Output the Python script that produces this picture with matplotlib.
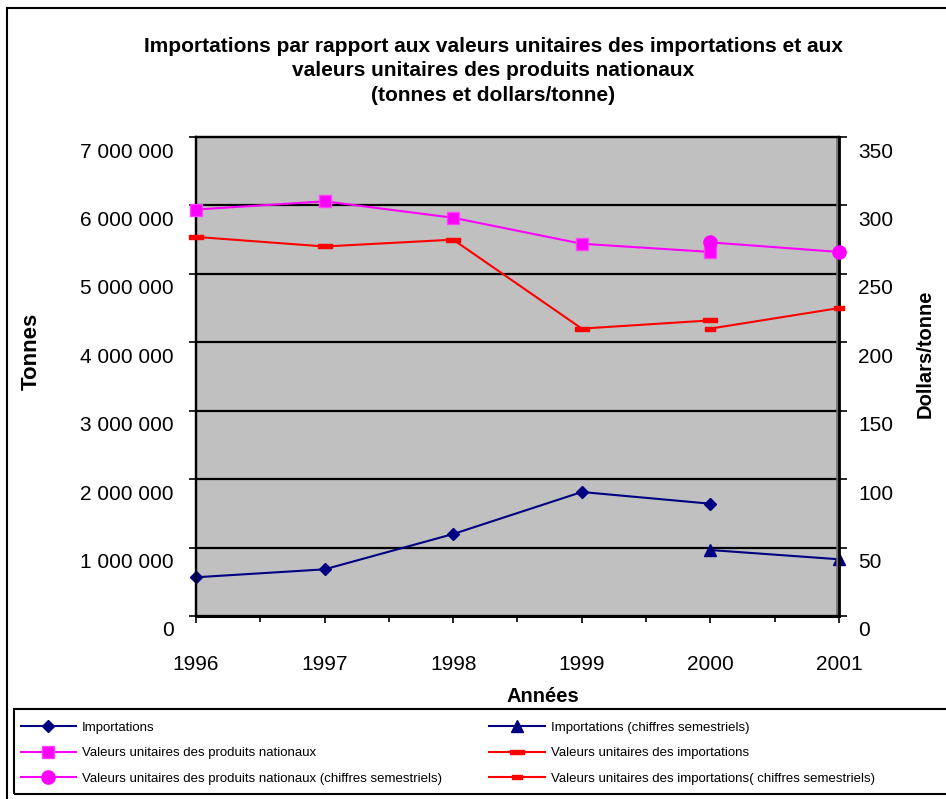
import matplotlib
matplotlib.use("Agg")
import matplotlib.pyplot as plt
from matplotlib.lines import Line2D
from matplotlib.patches import Rectangle
from matplotlib.transforms import ScaledTranslation
import numpy as np

plt.rcParams['font.family'] = ['Liberation Sans', 'DejaVu Sans']

# ---- data ----
years = [1996, 1997, 1998, 1999, 2000, 2001]
imp_years = [1996, 1997, 1998, 1999, 2000]
importations = [566000, 682000, 1198000, 1812000, 1641000]
semi_years = [2000, 2001]
importations_semi = [964000, 829000]
nat_values = [297, 303, 291, 272, 266]
nat_values_semi = [273, 266]
imp_values = [277, 270, 275, 210, 216]
imp_values_semi = [210, 225]

left_ticks = [0, 1000000, 2000000, 3000000, 4000000, 5000000, 6000000, 7000000]
left_labels = ["0", "1 000 000", "2 000 000", "3 000 000", "4 000 000",
               "5 000 000", "6 000 000", "7 000 000"]
right_ticks = [0, 50, 100, 150, 200, 250, 300, 350]

W, H = 946, 799
fig = plt.figure(figsize=(W / 100, H / 100), dpi=100)

def fx(px):
    return px / W

def fy(py):
    return 1 - py / H

# figure border (left and top)
fig.add_artist(Line2D([fx(7), fx(7)], [fy(8), fy(800)], color='black', lw=1.5,
                      transform=fig.transFigure))
fig.add_artist(Line2D([fx(7), fx(950)], [fy(8), fy(8)], color='black', lw=1.5,
                      transform=fig.transFigure))

ax = fig.add_axes([fx(196), fy(616), fx(839 - 196), (616 - 137) / H])
ax.set_facecolor('#C0C0C0')
ax.set_xlim(1996, 2001)
ax.set_ylim(0, 7000000)
for y in left_ticks[1:-1]:
    ax.axhline(y, color='black', lw=1.6, zorder=1)

ax.set_yticks(left_ticks)
ax.set_yticklabels(left_labels, fontsize=15)
ax.set_xticks(years)
ax.set_xticklabels([str(y) for y in years], fontsize=15)
ax.set_xticks(np.arange(1996.5, 2001, 1.0), minor=True)
ax.tick_params(axis='y', direction='out', length=5, width=1.2, pad=11)
ax.tick_params(axis='x', which='major', direction='out', length=5, width=1.2, pad=23)
ax.tick_params(axis='x', which='minor', direction='out', length=4, width=1.2)
for lbl in ax.get_yticklabels():
    lbl.set_transform(lbl.get_transform() + ScaledTranslation(0, -13 / 100, fig.dpi_scale_trans))
for s in ['left', 'bottom', 'top', 'right']:
    ax.spines[s].set_linewidth(1.6)
ax.spines['bottom'].set_linewidth(2.2)

ax.plot(imp_years, importations, color='#000080', lw=1.5, marker='D', ms=6.5,
        mfc='#000080', mec='#000080', zorder=3, clip_on=False,
        label='Importations')
ax.plot(semi_years, importations_semi, color='#000080', lw=1.5, marker='^', ms=9,
        mfc='#000080', mec='#000080', zorder=3, clip_on=False,
        label='Importations (chiffres semestriels)')

ax2 = ax.twinx()
ax2.set_ylim(0, 350)
ax2.set_yticks(right_ticks)
ax2.set_yticklabels([str(v) for v in right_ticks], fontsize=15)
ax2.tick_params(axis='y', direction='out', length=6, width=1.2, pad=8)
for lbl in ax2.get_yticklabels():
    lbl.set_transform(lbl.get_transform() + ScaledTranslation(0, -13 / 100, fig.dpi_scale_trans))
for s in ['left', 'bottom', 'top', 'right']:
    ax2.spines[s].set_linewidth(1.6)
ax2.spines['right'].set_linewidth(2.0)
ax2.axvline(2001, color='#707070', lw=4, zorder=0.5)

dash = [(-0.5, -0.16), (0.5, -0.16), (0.5, 0.16), (-0.5, 0.16), (-0.5, -0.16)]

ax2.plot(imp_years, nat_values, color='#FF00FF', lw=1.5, marker='s', ms=8.5,
         mfc='#FF00FF', mec='#FF40FF', zorder=3, clip_on=False,
         label='Valeurs unitaires des produits nationaux')
ax2.plot(semi_years, nat_values_semi, color='#FF00FF', lw=1.5, marker='o', ms=9.5,
         mfc='#FF00FF', mec='#FF00FF', zorder=3, clip_on=False,
         label='Valeurs unitaires des produits nationaux (chiffres semestriels)')
ax2.plot(imp_years, imp_values, color='#FF0000', lw=1.5, marker=dash, ms=10,
         mfc='#FF0000', mec='#FF0000', zorder=3, clip_on=False,
         label='Valeurs unitaires des importations')
ax2.plot(semi_years, imp_values_semi, color='#FF0000', lw=1.5, marker=dash, ms=7,
         mfc='#FF0000', mec='#FF0000', zorder=3, clip_on=False,
         label='Valeurs unitaires des importations( chiffres semestriels)')

# title and axis labels
fig.text(fx(493), fy(71),
         "Importations par rapport aux valeurs unitaires des importations et aux\n"
         "valeurs unitaires des produits nationaux\n(tonnes et dollars/tonne)",
         ha='center', va='center', fontsize=15, fontweight='bold', linespacing=1.37)
fig.text(fx(31), fy(351), "Tonnes", rotation=90, ha='center', va='center',
         fontsize=16, fontweight='bold')
fig.text(fx(925), fy(354), "Dollars/tonne", rotation=90, ha='center', va='center',
         fontsize=14.5, fontweight='bold')
fig.text(fx(543), fy(697), "Années", ha='center', va='center',
         fontsize=14.5, fontweight='bold')

# legend
fig.add_artist(Rectangle((fx(14), fy(794)), fx(960 - 14), (794 - 709) / H,
                         transform=fig.transFigure, fill=False, ec='black', lw=1.5))
h1, l1 = ax.get_legend_handles_labels()
h2, l2 = ax2.get_legend_handles_labels()
handles = [h1[0], h2[0], h2[1], h1[1], h2[2], h2[3]]
labels = [l1[0], l2[0], l2[1], l1[1], l2[2], l2[3]]
fig.legend(handles, labels, loc='upper left', bbox_to_anchor=(fx(10), fy(711)),
           ncol=2, frameon=False, fontsize=9.5, handlelength=4.2,
           handletextpad=0.45, columnspacing=3.6, labelspacing=1.0,
           borderpad=0.3)

fig.savefig("out.png", dpi=100)
